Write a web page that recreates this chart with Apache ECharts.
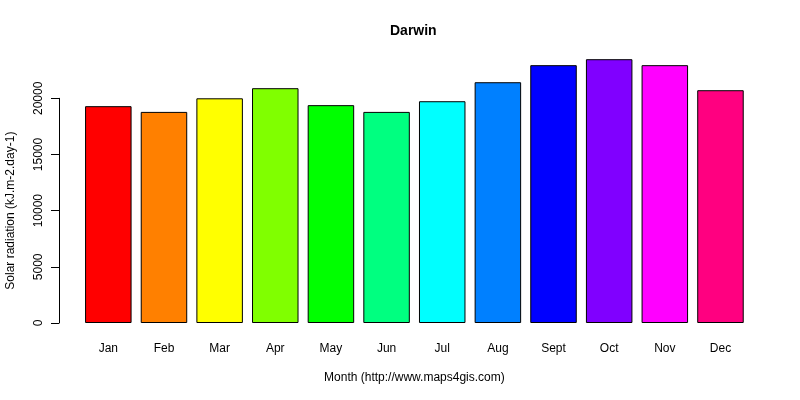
<!DOCTYPE html>
<html>
	<head>
		<meta charset="utf-8">
		<title>Darwin</title>
		<script src="https://cdn.jsdelivr.net/npm/echarts@6/dist/echarts.min.js" type="text/javascript" charset="utf-8"></script>
		<style>
			html, body { margin: 0; padding: 0; background: #fff; }
		</style>
	</head>
	<body>
		<div id="mainChart" style="width: 800px;height:400px;"></div>
		<script type="text/javascript">
			// monthly solar radiation
			var months = ['Jan', 'Feb', 'Mar', 'Apr', 'May', 'Jun', 'Jul', 'Aug', 'Sept', 'Oct', 'Nov', 'Dec'];
			var radiation = [19300, 18790, 20000, 20900, 19390, 18790, 19740, 21430, 22950, 23480, 22950, 20720];
			var barColors = ['#FF0000', '#FF8000', '#FFFF00', '#80FF00', '#00FF00', '#00FF80',
				'#00FFFF', '#0080FF', '#0000FF', '#8000FF', '#FF00FF', '#FF0080'];
			var yTicks = [0, 5000, 10000, 15000, 20000];

			var font = 'Liberation Sans, Arial, sans-serif';

			function buildData() {
				var out = [];
				for (var i = 0; i < radiation.length; i++) {
					out.push({
						value: radiation[i],
						itemStyle: { color: barColors[i] }
					});
				}
				return out;
			}

			var myChart = echarts.init(document.getElementById('mainChart'));
			var option = {
				backgroundColor: '#fff',
				animation: false,
				textStyle: { fontFamily: font, color: '#000' },
				title: {
					text: 'Darwin',
					left: 390,
					top: 24,
					padding: 0,
					textStyle: { fontFamily: font, fontSize: 14, fontWeight: 'bold', color: '#000' }
				},
				grid: { left: 80.5, right: 51.7, top: 98.3, bottom: 77, outerBoundsMode: 'none', containLabel: false },
				xAxis: {
					type: 'category',
					data: months,
					name: 'Month (http://www.maps4gis.com)',
					nameLocation: 'middle',
					nameGap: 49,
					nameTextStyle: { fontFamily: font, fontSize: 12, color: '#000' },
					axisLine: { show: false },
					axisTick: { show: false },
					axisLabel: { margin: 20, fontSize: 12, color: '#000', fontFamily: font }
				},
				yAxis: {
					type: 'value',
					min: yTicks[0],
					max: yTicks[yTicks.length - 1],
					interval: 5000,
					offset: 21.5,
					name: 'Solar radiation (kJ.m-2.day-1)',
					nameLocation: 'middle',
					nameGap: 42,
					nameTextStyle: { fontFamily: font, fontSize: 12, color: '#000' },
					axisLine: { show: true, lineStyle: { color: '#000', width: 1 } },
					axisTick: { show: true, length: 8, lineStyle: { color: '#000' } },
					axisLabel: {
						rotate: 90, margin: 14, fontSize: 12, color: '#000', fontFamily: font,
						formatter: function (v) { return String(v); }
					},
					splitLine: { show: false }
				},
				series: [{
					type: 'bar',
					data: buildData(),
					barWidth: 46.5,
					clip: false,
					itemStyle: { borderColor: '#000', borderWidth: 1 }
				}]
			};
			myChart.setOption(option);
		</script>
	</body>
</html>
